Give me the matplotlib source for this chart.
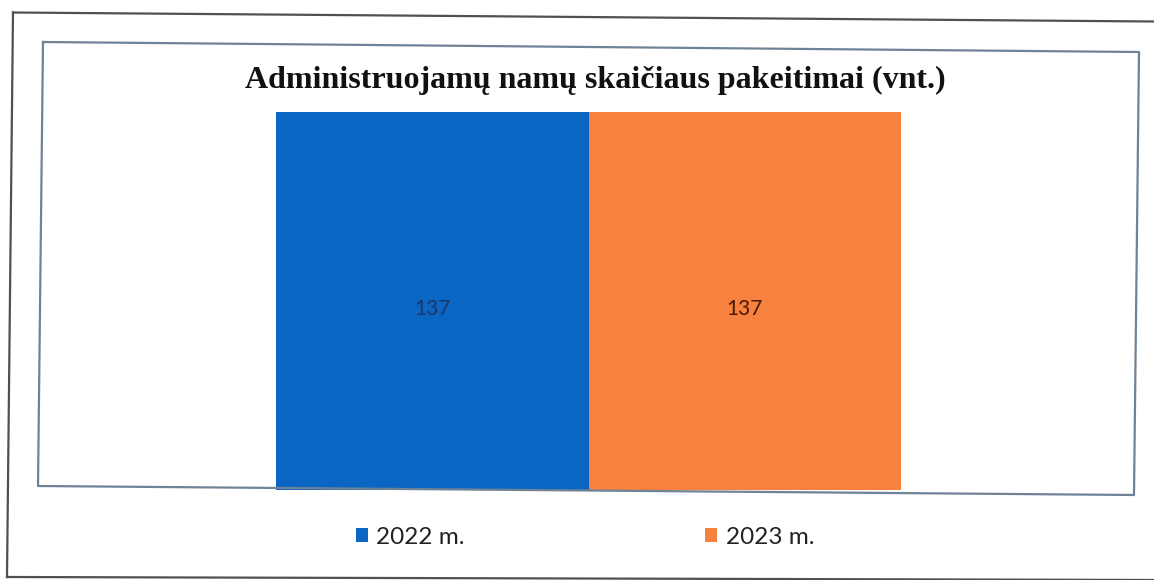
import matplotlib
matplotlib.use("Agg")
import matplotlib.pyplot as plt
from matplotlib.lines import Line2D

title = "Administruojamų namų skaičiaus pakeitimai (vnt.)"
series_names = ["2022 m.", "2023 m."]
values = [137, 137]
colors = ["#0a66c2", "#f7813f"]
label_colors = ["#1c3768", "#4a1808"]

W, H = 1154, 580
fig = plt.figure(figsize=(W / 100, H / 100), dpi=100)
fig.patch.set_facecolor("white")

def fx(px):
    return px / W

def fy(py):
    return 1 - py / H

# axes occupying the inner plot region
ax_left, ax_right, ax_top, ax_bottom = 40, 1137, 48.5, 490
ax = fig.add_axes([fx(ax_left), fy(ax_bottom), fx(ax_right) - fx(ax_left), (ax_bottom - ax_top) / H])
ax.set_xlim(-0.5, 0.5)
ax.set_ylim(0, 160)
width = 0.285
offsets = [-width / 2, width / 2]
bars = []
for name, v, c, lc, off in zip(series_names, values, colors, label_colors, offsets):
    b = ax.bar(off, v, width=width, color=c, label=name, edgecolor="none")
    bars.append(b)
    ax.annotate(str(v), xy=(off, v / 2), xytext=(0, -6), textcoords="offset points",
                ha="center", va="center", color=lc, fontsize=15, family="Lato")
ax.set_axis_off()

# outer frame (slightly rotated scan)
frame_kw = dict(transform=fig.transFigure, color="#505050", lw=1.6)
fig.add_artist(Line2D([fx(13), fx(1154)], [fy(12.5), fy(21.5)], **frame_kw))
fig.add_artist(Line2D([fx(13), fx(7)], [fy(12.5), fy(577)], **frame_kw))
fig.add_artist(Line2D([fx(7), fx(1154)], [fy(577), fy(580)], **frame_kw))

# inner chart frame
inner_kw = dict(transform=fig.transFigure, color="#6f8396", lw=1.6)
corners = [(43, 42), (1139, 52), (1134, 495), (38, 486), (43, 42)]
fig.add_artist(Line2D([fx(p[0]) for p in corners], [fy(p[1]) for p in corners], **inner_kw))

# title
fig.text(fx(595), fy(80), title, ha="center", va="center",
         fontsize=23, fontweight="bold", family="Liberation Serif", color="#111111")

# legend
fig.legend(handles=[b[0] for b in bars], labels=series_names, loc="center",
           bbox_to_anchor=(fx(585), fy(537)), ncol=2, frameon=False,
           handlelength=0.5, handleheight=0.5, handletextpad=0.35,
           columnspacing=9.9, prop={"family": "Lato", "size": 17.5},
           labelcolor="#222222")

fig.savefig("out.png", dpi=100, facecolor="white")
